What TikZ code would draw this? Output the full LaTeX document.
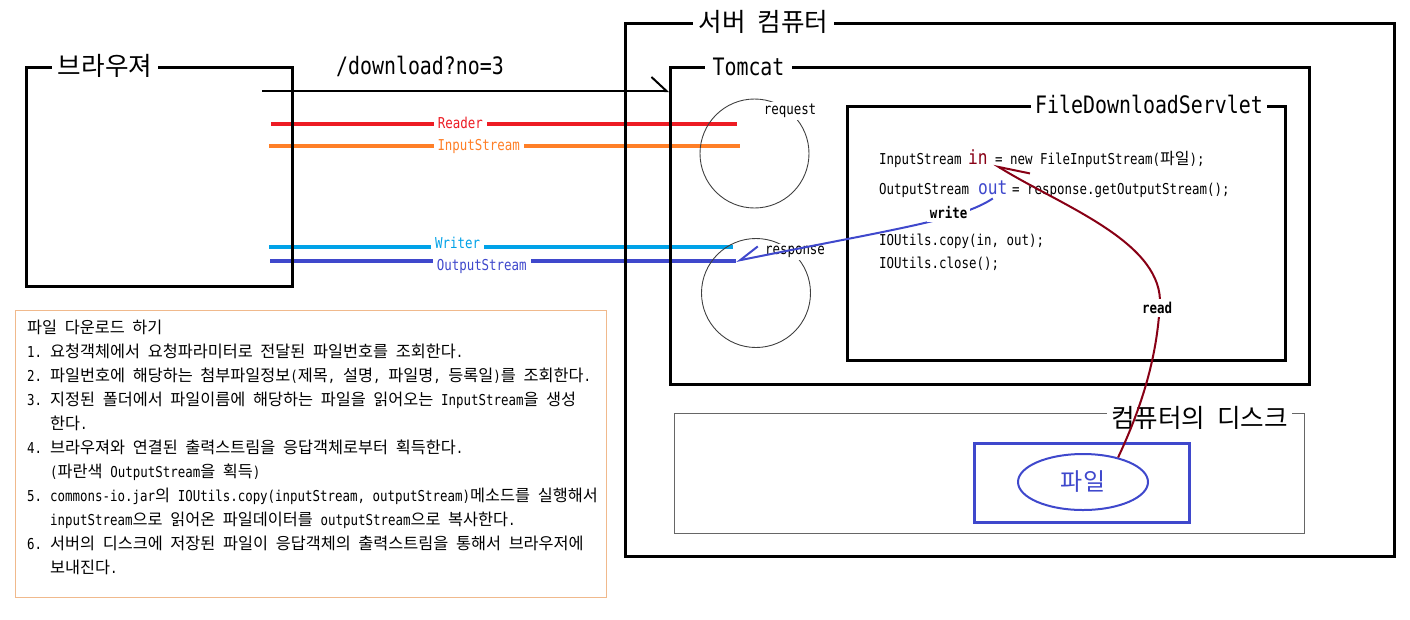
\documentclass[tikz,border=0pt]{standalone}
\usepackage{fontspec}
\setmainfont[WordSpace=2.1]{Noto Sans CJK KR}
\newfontfamily\mono[FakeStretch=0.83]{DejaVu Sans Mono}
\usetikzlibrary{arrows.meta,
  positioning,
  shapes.geometric
}
\definecolor{readerred}{RGB}{237,28,36}
\definecolor{inorange}{RGB}{255,127,39}
\definecolor{writercyan}{RGB}{0,162,232}
\definecolor{outblue}{RGB}{63,72,204}
\definecolor{darkred}{RGB}{136,0,21}
\definecolor{noteorange}{RGB}{240,185,140}
\newcommand{\stepnum}[1]{\makebox[23pt][l]{\mono\fontsize{15pt}{24pt}\selectfont #1}}
\newcommand{\lat}[1]{{\mono\fontsize{15pt}{24pt}\selectfont #1}}

\begin{document}
\begin{tikzpicture}[x=1pt,y=-1pt,
        framebox/.style={rectangle, draw=black, line width=2.5pt, anchor=north west, inner sep=0pt},
        krtitle/.style={fill=white, inner xsep=6pt, inner ysep=2pt, font=\fontsize{25.6pt}{30pt}\selectfont},
        monotitle/.style={fill=white, inner xsep=8pt, inner ysep=2pt, font=\mono\fontsize{24pt}{28pt}\selectfont},
        codetext/.style={inner sep=0pt, anchor=base west, font=\mono\fontsize{15pt}{18pt}\selectfont},
        bigword/.style={inner sep=0pt, anchor=base west, font=\mono\fontsize{19.5pt}{22pt}\selectfont},
        streamline/.style={line width=4pt},
        streamlabel/.style={fill=white, anchor=west, inner xsep=4pt, inner ysep=1pt, text height=11pt, text depth=3pt, font=\mono\fontsize{15pt}{18pt}\selectfont},
        smalllabel/.style={fill=white, inner sep=2pt, font=\mono\fontsize{15pt}{18pt}\selectfont},
        boldlabel/.style={fill=white, inner sep=3pt, font=\mono\bfseries\fontsize{15pt}{18pt}\selectfont},
        roundnode/.style={circle, draw=black!75, line width=0.9pt, minimum size=109pt, inner sep=0pt},
      ]
      \useasboundingbox (0,0) rectangle (1410,619);

      % Streams
      \coordinate (reader_a) at (271,124);
      \coordinate (reader_b) at (737,124);
      \coordinate (input_a) at (269,146);
      \coordinate (input_b) at (740,146);
      \coordinate (writer_a) at (269,247);
      \coordinate (writer_b) at (733,247);
      \coordinate (output_a) at (270,261);
      \coordinate (output_b) at (736,261);
      \draw[streamline, readerred] (reader_a) -- node[streamlabel, pos=0.345, text=readerred] {Reader} (reader_b);
      \draw[streamline, inorange] (input_a) -- node[streamlabel, pos=0.345, text=inorange] {InputStream} (input_b);
      \draw[streamline, writercyan] (writer_a) -- node[streamlabel, pos=0.345, yshift=2.5pt, text=writercyan] {Writer} (writer_b);
      \draw[streamline, outblue] (output_a) -- node[streamlabel, pos=0.345, yshift=-5pt, text=outblue] {OutputStream} (output_b);

      % Boxes
      \node[framebox, minimum width=266pt, minimum height=219pt] (browser) at (25,66) {};
      \node[krtitle] (browser_title) at (105,66) {브라우져};
      \node[framebox, minimum width=769pt, minimum height=533pt] (server) at (624,22) {};
      \node[krtitle] (server_title) at (763.5,22) {서버 컴퓨터};
      \node[framebox, minimum width=639pt, minimum height=317pt] (tomcat) at (669,66) {};
      \node[monotitle] (tomcat_title) at (748.5,67) {Tomcat};
      \node[framebox, minimum width=438pt, minimum height=254pt] (servlet) at (846,105) {};
      \node[monotitle, inner xsep=4pt] (servlet_title) at (1149,104) {FileDownloadServlet};
      \node[framebox, draw=black!60, line width=1.2pt, minimum width=630pt, minimum height=120pt] (disk) at (674,413) {};
      \node[krtitle, inner xsep=4pt] (disk_title) at (1199.5,418) {컴퓨터의 디스크};

      \node[roundnode] (req) at (754.5,153.5) {};
      \node[roundnode] (resp) at (756,293) {};
      \node[smalllabel] (req_label) at (790,111) {request};
      \node[smalllabel] (resp_label) at (795,252) {response};

      % Code
      \node[codetext] (in_decl) at (879,164) {InputStream};
      \node[bigword, text=darkred] (in) at (968,164) {in};
      \node[codetext] (in_rest) at (995,164) {= new FileInputStream({\normalfont\fontsize{16pt}{18pt}\selectfont 파일});};
      \node[codetext] (out_decl) at (879,194) {OutputStream};
      \node[bigword, text=outblue] (out) at (978,194) {out};
      \node[codetext] (out_rest) at (1012,194) {= response.getOutputStream();};
      \node[codetext] (copy) at (879,245) {IOUtils.copy(in, out);};
      \node[codetext] (close) at (879,268) {IOUtils.close();};

      % File on disk
      \node[framebox, draw=outblue, minimum width=215pt, minimum height=79pt] (file_box) at (973,442) {};
      \node[ellipse, draw=outblue, line width=2pt, minimum width=130pt, minimum height=56pt, text=outblue,
            font=\fontsize{24pt}{28pt}\selectfont] (file) at (1083,482) {파일};

      % Notes
      \node[draw=noteorange, line width=1pt, minimum width=591pt, minimum height=287pt, anchor=north west, inner sep=0pt] (notes) at (15,310) {};
      \node[anchor=north west, align=left, inner sep=0pt, font=\fontsize{16.3pt}{24pt}\selectfont] (steps) at (27,320) {%
        파일 다운로드 하기\\
        \stepnum{1.}요청객체에서 요청파라미터로 전달된 파일번호를 조회한다\lat{.}\\
        \stepnum{2.}파일번호에 해당하는 첨부파일정보\lat{(}제목\lat{,} 설명\lat{,} 파일명\lat{,} 등록일\lat{)}를 조회한다\lat{.}\\
        \stepnum{3.}지정된 폴더에서 파일이름에 해당하는 파일을 읽어오는 \lat{InputStream}을 생성\\
        \hspace*{23pt}한다\lat{.}\\
        \stepnum{4.}브라우져와 연결된 출력스트림을 응답객체로부터 획득한다\lat{.}\\
        \hspace*{23pt}\lat{(}파란색 \lat{OutputStream}을 획득\lat{)}\\
        \stepnum{5.}\lat{commons-io.jar}의 \lat{IOUtils.copy(inputStream, outputStream)}메소드를 실행해서\\
        \hspace*{23pt}\lat{inputStream}으로 읽어온 파일데이터를 \lat{outputStream}으로 복사한다\lat{.}\\
        \stepnum{6.}서버의 디스크에 저장된 파일이 응답객체의 출력스트림을 통해서 브라우저에\\
        \hspace*{23pt}보내진다\lat{.}};

      % Lines
      \coordinate (url_start) at (262,91);
      \node[monotitle, fill=none, anchor=base] (url) at (420,74) {/download?no=3};
      \draw[line width=2pt, -{Straight Barb[left, length=15pt, width=28pt]}] (url_start) -- (url_start -| tomcat.west);
      \draw[outblue, line width=2pt, -{Straight Barb[right, length=20pt, width=20pt]}]
        ([yshift=-4pt]out.south) .. controls (960,220) and (900,228) .. (output_b);
      \node[boldlabel] (write) at (948.5,213) {write};
      \draw[darkred, line width=2pt, -{Straight Barb[right, length=30pt, width=22pt]}]
        (file.35) .. controls (1145,400) and (1158,350) .. (1160,300)
        .. controls (1158,240) and (1060,205) .. ([xshift=6pt]in.base east);
      \node[boldlabel] (read) at (1157,308) {read};
    \end{tikzpicture}
\end{document}
